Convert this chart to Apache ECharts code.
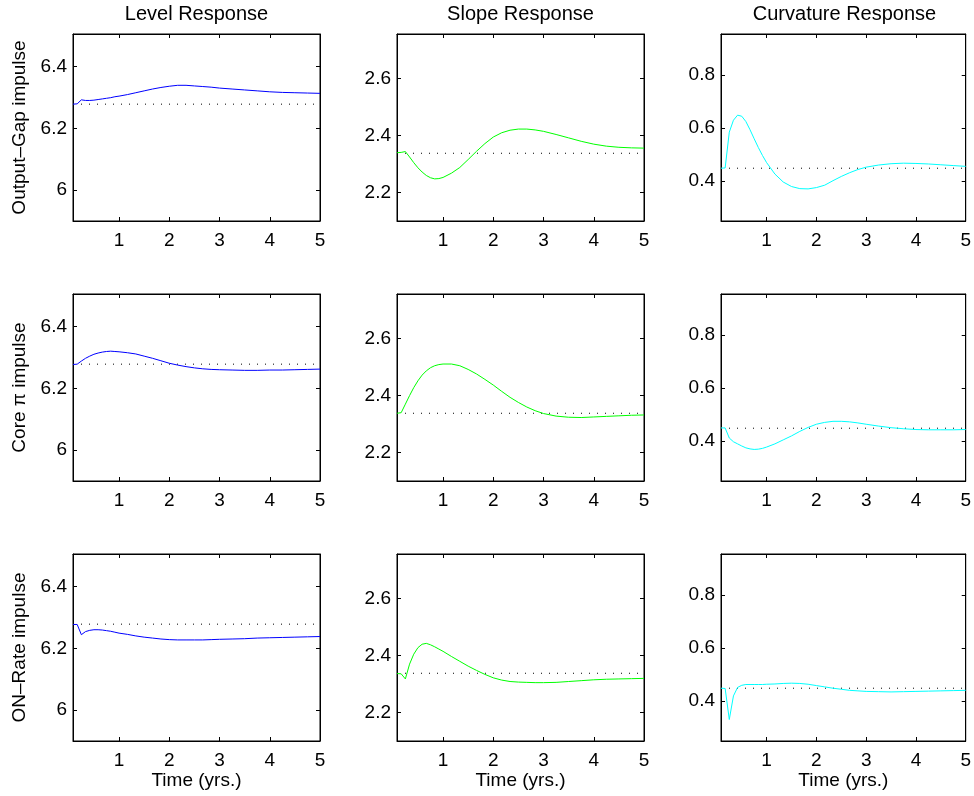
<!DOCTYPE html>
<html>
<head>
<meta charset="utf-8">
<script src="https://cdn.jsdelivr.net/npm/echarts@6/dist/echarts.min.js"></script>
<style>
html,body{margin:0;padding:0;background:#fff;}
#chart{width:974px;height:796px;}
</style>
</head>
<body>
<div id="chart"></div>
<script>
// Horizon in months (converted to years for the x axis)
const months = [1,2,3,4,5,6,7,8,9,10,11,12,14,16,18,20,22,24,26,28,30,32,34,36,39,42,45,48,51,54,57,60];

// Output-Gap impulse
const levelOutputGap = [6.278,6.279,6.292,6.290,6.290,6.291,6.293,6.295,6.297,6.299,6.302,6.304,6.309,6.315,6.321,6.327,6.332,6.336,6.339,6.339,6.337,6.335,6.333,6.330,6.327,6.324,6.321,6.318,6.316,6.315,6.314,6.313];
const slopeOutputGap = [2.340,2.341,2.344,2.325,2.305,2.287,2.272,2.260,2.252,2.248,2.249,2.253,2.268,2.288,2.316,2.345,2.372,2.395,2.410,2.419,2.423,2.423,2.420,2.415,2.404,2.392,2.380,2.370,2.363,2.359,2.357,2.356];
const curvOutputGap = [0.449,0.450,0.585,0.630,0.649,0.645,0.625,0.594,0.560,0.527,0.497,0.470,0.427,0.397,0.380,0.372,0.371,0.376,0.385,0.402,0.418,0.432,0.444,0.453,0.461,0.466,0.468,0.467,0.465,0.462,0.459,0.456];

// Core pi impulse
const levelCorePi = [6.277,6.278,6.288,6.297,6.304,6.310,6.314,6.317,6.319,6.320,6.319,6.318,6.315,6.311,6.304,6.297,6.289,6.281,6.275,6.270,6.266,6.263,6.261,6.260,6.259,6.258,6.258,6.259,6.259,6.260,6.261,6.262];
const slopeCorePi = [2.338,2.340,2.370,2.400,2.428,2.452,2.472,2.487,2.498,2.505,2.509,2.511,2.511,2.505,2.492,2.476,2.457,2.437,2.415,2.394,2.376,2.360,2.347,2.337,2.328,2.324,2.323,2.325,2.327,2.329,2.331,2.332];
const curvCorePi = [0.450,0.450,0.412,0.398,0.390,0.382,0.375,0.371,0.369,0.370,0.373,0.378,0.390,0.405,0.420,0.437,0.452,0.464,0.471,0.475,0.475,0.473,0.469,0.464,0.457,0.451,0.447,0.444,0.443,0.443,0.443,0.444];

// ON-Rate impulse
const levelONRate = [6.277,6.277,6.244,6.254,6.258,6.260,6.260,6.259,6.257,6.255,6.252,6.249,6.245,6.240,6.236,6.233,6.230,6.228,6.227,6.227,6.227,6.227,6.228,6.229,6.230,6.231,6.233,6.234,6.235,6.236,6.237,6.238];
const slopeONRate = [2.337,2.336,2.318,2.370,2.405,2.428,2.440,2.443,2.438,2.431,2.423,2.415,2.397,2.380,2.363,2.348,2.334,2.322,2.314,2.309,2.307,2.306,2.305,2.305,2.306,2.309,2.312,2.315,2.317,2.318,2.319,2.320];
const curvONRate = [0.449,0.448,0.331,0.420,0.452,0.460,0.463,0.463,0.463,0.463,0.463,0.464,0.465,0.467,0.468,0.467,0.464,0.459,0.454,0.449,0.445,0.441,0.439,0.437,0.436,0.435,0.436,0.437,0.438,0.439,0.440,0.441];

// Pre-shock (steady) levels shown as dotted lines
const steadyLevels = [6.278, 2.338, 0.449];

// Axis ticks
const xTicks = [1,2,3,4,5];
const levelTicks = [6, 6.2, 6.4];
const slopeTicks = [2.2, 2.4, 2.6];
const curvTicks = [0.4, 0.6, 0.8];
const xRange = [1/12, 5];
const levelRange = [5.9, 6.505];
const slopeRange = [2.1, 2.757];
const curvRange = [0.25, 0.955];

const columnTitles = ['Level Response', 'Slope Response', 'Curvature Response'];
const rowNames = ['Output\u2013Gap impulse', 'Core \u03c0 impulse', 'ON\u2013Rate impulse'];
const xName = 'Time (yrs.)';

const panelData = [
  [levelOutputGap, slopeOutputGap, curvOutputGap],
  [levelCorePi, slopeCorePi, curvCorePi],
  [levelONRate, slopeONRate, curvONRate]
];
const colTicks = [levelTicks, slopeTicks, curvTicks];
const colRanges = [levelRange, slopeRange, curvRange];
const colColors = ['#0000ff', '#00ff00', '#00ffff'];

const T = months.map(m => m / 12);
const FONT = 'Liberation Sans, Arial, sans-serif';
const FS = 19;
const TITLE_FS = 20;

const colLeft = [73, 397, 721];
const colWidth = 247;
const rowTop = [34, 294, 554];
const rowHeight = 187;

const grids = [], xAxes = [], yAxes = [], series = [], graphics = [];

for (let r = 0; r < 3; r++) {
  for (let c = 0; c < 3; c++) {
    const k = r * 3 + c;
    grids.push({
      left: colLeft[c], top: rowTop[r], width: colWidth, height: rowHeight,
      show: true, borderColor: '#000', borderWidth: 1, backgroundColor: '#fff'
    });
    const tickStyle = { show: true, inside: true, length: 4, lineStyle: { color: '#000', width: 1 } };
    xAxes.push({
      type: 'value', gridIndex: k, position: 'bottom', min: xRange[0], max: xRange[1],
      axisLine: { show: true, onZero: false, lineStyle: { color: '#000', width: 1 } },
      axisTick: Object.assign({ customValues: xTicks }, tickStyle),
      axisLabel: { show: true, customValues: xTicks, margin: 10, color: '#000', fontFamily: FONT, fontSize: FS },
      splitLine: { show: false },
      name: r === 2 ? xName : '', nameLocation: 'middle', nameGap: 29,
      nameTextStyle: { color: '#000', fontFamily: FONT, fontSize: FS }
    });
    xAxes.push({
      type: 'value', gridIndex: k, position: 'top', min: xRange[0], max: xRange[1],
      axisLine: { show: true, onZero: false, lineStyle: { color: '#000', width: 1 } },
      axisTick: Object.assign({ customValues: xTicks }, tickStyle),
      axisLabel: { show: false, customValues: xTicks },
      splitLine: { show: false }
    });
    yAxes.push({
      type: 'value', gridIndex: k, position: 'left', min: colRanges[c][0], max: colRanges[c][1],
      axisLine: { show: true, onZero: false, lineStyle: { color: '#000', width: 1 } },
      axisTick: Object.assign({ customValues: colTicks[c] }, tickStyle),
      axisLabel: { show: true, customValues: colTicks[c], margin: 6, color: '#000', fontFamily: FONT, fontSize: FS },
      splitLine: { show: false },
      name: c === 0 ? rowNames[r] : '', nameLocation: 'middle', nameGap: 44,
      nameTextStyle: { color: '#000', fontFamily: FONT, fontSize: FS }
    });
    yAxes.push({
      type: 'value', gridIndex: k, position: 'right', min: colRanges[c][0], max: colRanges[c][1],
      axisLine: { show: true, onZero: false, lineStyle: { color: '#000', width: 1 } },
      axisTick: Object.assign({ customValues: colTicks[c] }, tickStyle),
      axisLabel: { show: false, customValues: colTicks[c] },
      splitLine: { show: false }
    });
    // dotted steady-state reference
    series.push({
      type: 'line', xAxisIndex: 2 * k, yAxisIndex: 2 * k, silent: true,
      data: [[xRange[0], steadyLevels[c]], [xRange[1], steadyLevels[c]]],
      showSymbol: false, symbol: 'none',
      lineStyle: { color: '#000', width: 1, type: [1, 7] }, z: 2
    });
    // impulse response
    const vals = panelData[r][c];
    series.push({
      type: 'line', xAxisIndex: 2 * k, yAxisIndex: 2 * k,
      data: T.map((t, i) => [t, vals[i]]),
      showSymbol: false, symbol: 'none', smooth: false,
      lineStyle: { color: colColors[c], width: 1 }, z: 3
    });
  }
}

for (let c = 0; c < 3; c++) {
  graphics.push({
    type: 'text', x: colLeft[c] + colWidth / 2, y: 14,
    style: { text: columnTitles[c], fill: '#000', font: TITLE_FS + 'px ' + FONT, textAlign: 'center', textVerticalAlign: 'middle' }
  });
}

const chart = echarts.init(document.getElementById('chart'), null, { renderer: 'canvas' });
chart.setOption({
  animation: false,
  backgroundColor: '#fff',
  grid: grids,
  xAxis: xAxes,
  yAxis: yAxes,
  series: series,
  graphic: graphics
});
</script>
</body>
</html>
